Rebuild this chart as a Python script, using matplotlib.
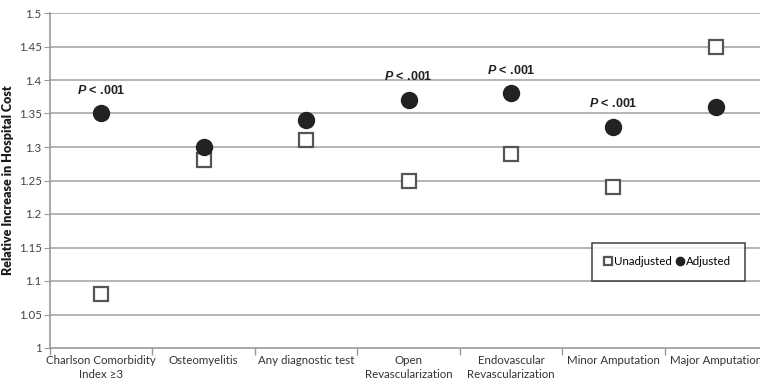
import matplotlib
matplotlib.use("Agg")
import matplotlib.pyplot as plt
import numpy as np

categories = ["Charlson Comorbidity\nIndex ≥3", "Osteomyelitis", "Any diagnostic test",
              "Open\nRevascularization", "Endovascular\nRevascularization",
              "Minor Amputation", "Major Amputation"]
unadjusted = [1.08, 1.28, 1.31, 1.25, 1.29, 1.24, 1.45]
adjusted = [1.35, 1.30, 1.34, 1.37, 1.38, 1.33, 1.36]
significant = [True, False, False, True, True, True, False]
yticks = [1, 1.05, 1.1, 1.15, 1.2, 1.25, 1.3, 1.35, 1.4, 1.45, 1.5]
ytick_labels = ["1", "1.05", "1.1", "1.15", "1.2", "1.25", "1.3", "1.35", "1.4", "1.45", "1.5"]

plt.rcParams['mathtext.fontset'] = 'custom'
plt.rcParams['mathtext.it'] = 'Liberation Sans:italic:bold'
plt.rcParams['mathtext.rm'] = 'Liberation Sans:bold'

FONT = "Lato"
FS = 8.3

fig = plt.figure(figsize=(7.6, 3.85), dpi=100)
ax = fig.add_axes([50/760, 37/385, 717/760, 335/385])

x = np.arange(len(categories))
ax.set_xlim(-0.5, len(categories) - 0.5)
ax.set_ylim(1, 1.5)

for y in yticks[1:]:
    ax.axhline(y, color="#b4b4b4", lw=1.4, zorder=1)

ax.plot(x, unadjusted, linestyle="none", marker="s", markersize=10.5,
        markerfacecolor="white", markeredgecolor="#555555", markeredgewidth=1.6,
        zorder=3, label="Unadjusted")
ax.plot(x, adjusted, linestyle="none", marker="o", markersize=11.5,
        markerfacecolor="#222222", markeredgecolor="#222222",
        zorder=3, label="Adjusted")

for xi, yi, s in zip(x, adjusted, significant):
    if s:
        ax.annotate(r"$\it{P}$ < .001", (xi, yi), xytext=(0, 12), textcoords="offset points",
                    ha="center", va="bottom", fontsize=9, fontweight="bold",
                    family="Liberation Sans", color="#222222")

ax.set_yticks(yticks)
ax.set_yticklabels(ytick_labels)
ax.set_xticks(x)
ax.set_xticklabels(categories, linespacing=1.3)
ax.set_xticks(np.arange(-0.5, len(categories), 1), minor=True)
ax.tick_params(axis="x", which="major", length=0, pad=5, labelsize=FS, labelcolor="#333333")
ax.tick_params(axis="x", which="minor", length=5, color="#999999", width=1)
ax.tick_params(axis="y", length=4, color="#999999", labelsize=FS, labelcolor="#444444", pad=2)
for lbl in ax.get_xticklabels() + ax.get_yticklabels():
    lbl.set_family(FONT)

for s in ["top", "right"]:
    ax.spines[s].set_visible(False)
for s in ["left", "bottom"]:
    ax.spines[s].set_color("#999999")
    ax.spines[s].set_linewidth(1.2)

ax.set_ylabel("Relative Increase in Hospital Cost", fontsize=9, fontweight="heavy",
              family=FONT, color="#1a1a1a", labelpad=3)

leg = ax.legend(loc="center", bbox_to_anchor=(0.862, 0.257), ncol=2, frameon=True,
                fancybox=False, edgecolor="#222222", markerscale=0.52,
                handlelength=0.45, handletextpad=0.3, columnspacing=0.45,
                borderpad=1.2, prop={"family": FONT, "size": FS})
leg.get_frame().set_linewidth(1.2)

fig.savefig("out.png", dpi=100)
